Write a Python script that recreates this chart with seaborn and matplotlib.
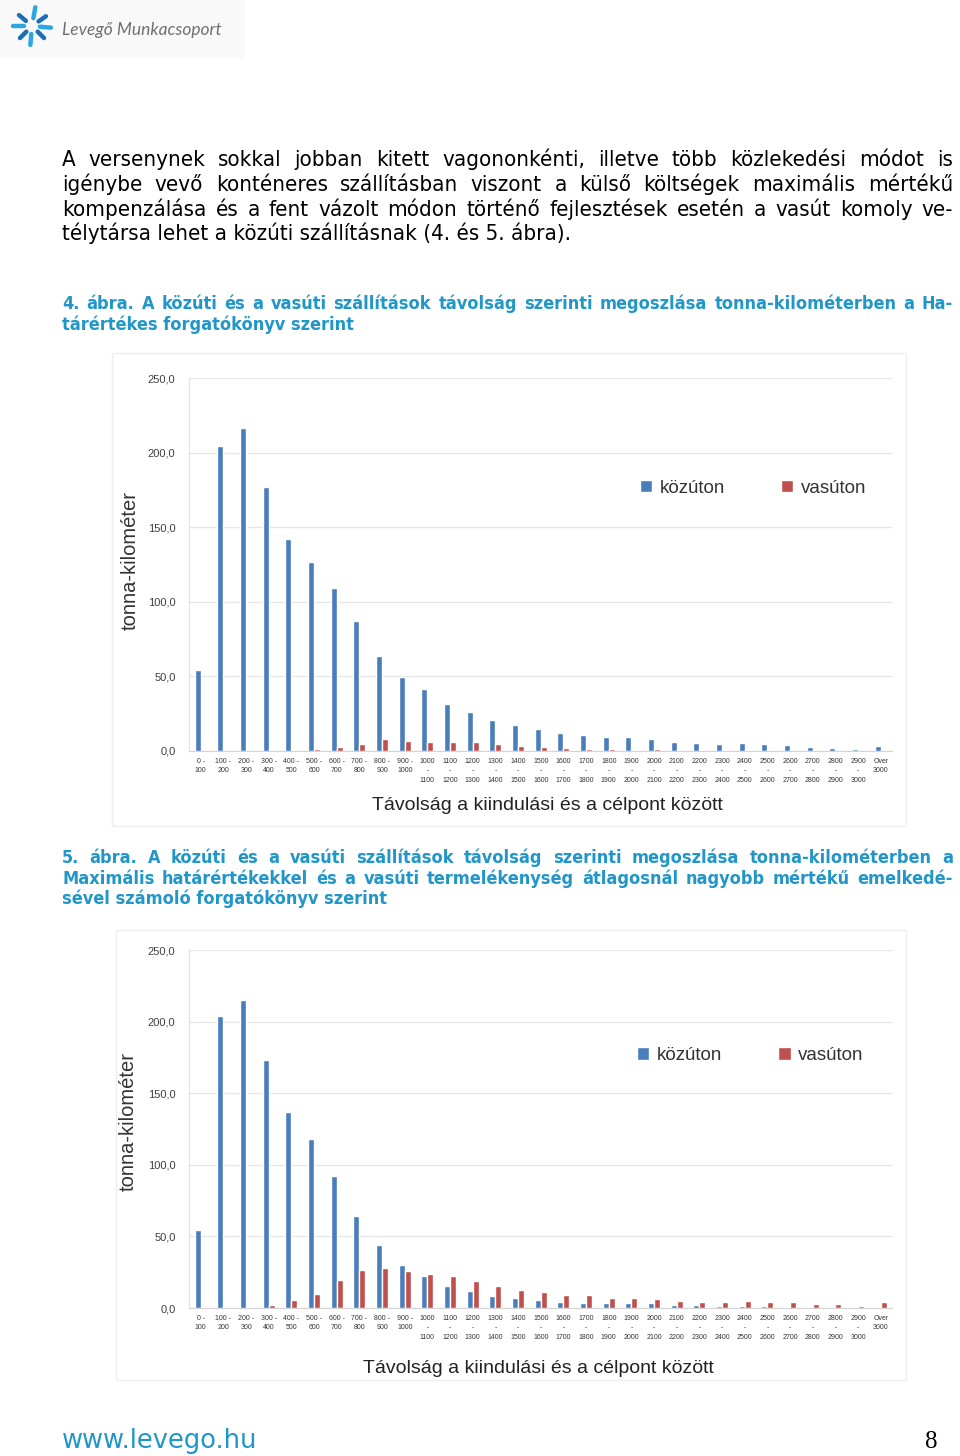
import matplotlib
matplotlib.use("Agg")
import matplotlib.pyplot as plt
import seaborn as sns
import pandas as pd
import numpy as np
from matplotlib.patches import Patch, Rectangle
from matplotlib.lines import Line2D
from matplotlib import font_manager

# ---------------- data ----------------
categories = ["0 -\n100", "100 -\n200", "200 -\n300", "300 -\n400", "400 -\n500",
              "500 -\n600", "600 -\n700", "700 -\n800", "800 -\n900", "900 -\n1000",
              "1000\n-\n1100", "1100\n-\n1200", "1200\n-\n1300", "1300\n-\n1400",
              "1400\n-\n1500", "1500\n-\n1600", "1600\n-\n1700", "1700\n-\n1800",
              "1800\n-\n1900", "1900\n-\n2000", "2000\n-\n2100", "2100\n-\n2200",
              "2200\n-\n2300", "2300\n-\n2400", "2400\n-\n2500", "2500\n-\n2600",
              "2600\n-\n2700", "2700\n-\n2800", "2800\n-\n2900", "2900\n-\n3000",
              "Over\n3000"]
series_names = ["közúton", "vasúton"]

road_fig4 = [54.2, 204.1, 216.2, 176.7, 142.4, 126.7, 109.0, 87.0, 63.6, 49.8,
             41.6, 31.3, 26.0, 21.0, 17.2, 14.5, 12.0, 11.0, 9.3, 9.2,
             8.0, 6.3, 5.2, 5.0, 5.2, 4.5, 4.3, 2.7, 2.3, 1.6, 3.2]
rail_fig4 = [0.0, 0.0, 0.0, 0.2, 0.7, 1.5, 2.7, 4.9, 7.8, 6.9,
             5.9, 5.9, 6.1, 5.0, 3.4, 2.5, 1.8, 1.4, 1.1, 0.9,
             1.1, 0.7, 0.5, 0.5, 0.5, 0.4, 0.4, 0.3, 0.3, 0.3, 0.4]
road_fig5 = [54.3, 204.2, 215.3, 173.3, 136.7, 118.1, 91.9, 64.5, 43.9, 30.2,
             22.6, 15.7, 11.8, 8.5, 7.1, 5.5, 4.4, 3.7, 3.2, 3.2,
             3.5, 2.3, 1.8, 1.6, 1.6, 1.2, 0.7, 0.7, 0.5, 0.7, 0.7]
rail_fig5 = [0.0, 0.0, 0.7, 2.1, 5.3, 9.7, 19.5, 26.7, 27.8, 25.9,
             24.0, 22.1, 18.9, 15.2, 12.4, 11.1, 9.4, 8.8, 6.7, 7.1,
             6.2, 4.8, 4.4, 4.1, 4.8, 4.1, 3.9, 2.8, 2.5, 1.6, 4.4]

ytick_values = [0, 50, 100, 150, 200, 250]
ytick_labels = ["0,0", "50,0", "100,0", "150,0", "200,0", "250,0"]

y_title = "tonna-kilométer"
x_title = "Távolság a kiindulási és a célpont között"

paragraph = [
    "A versenynek sokkal jobban kitett vagononkénti, illetve több közlekedési módot is",
    "igénybe vevő konténeres szállításban viszont a külső költségek maximális mértékű",
    "kompenzálása és a fent vázolt módon történő fejlesztések esetén a vasút komoly ve-",
    "télytársa lehet a közúti szállításnak (4. és 5. ábra).",
]
caption4 = [
    "4. ábra. A közúti és a vasúti szállítások távolság szerinti megoszlása tonna-kilométerben a Ha-",
    "tárértékes forgatókönyv szerint",
]
caption5 = [
    "5. ábra. A közúti és a vasúti szállítások távolság szerinti megoszlása tonna-kilométerben a",
    "Maximális határértékekkel és a vasúti termelékenység átlagosnál nagyobb mértékű emelkedé-",
    "sével számoló forgatókönyv szerint",
]

BLUE = "#4a7ebb"
RED = "#c0504d"
TEAL = "#2196c8"

# ---------------- setup ----------------
sns.set_style("white")
plt.rcParams["font.family"] = ["Liberation Sans", "DejaVu Sans"]

# condensed DejaVu, if installed, is closer to the squeezed body text
_cond = font_manager.findfont(font_manager.FontProperties(family="DejaVu Sans",
                                                          stretch="condensed"))
HAS_COND = "Condensed" in _cond
BODY = dict(family=["DejaVu Sans"], fontstretch="condensed") if HAS_COND else dict(family=["DejaVu Sans"])

W, H = 960, 1456
fig = plt.figure(figsize=(W / 100, H / 100), dpi=100)
page = fig.add_axes([0, 0, 1, 1], zorder=0)
page.set_xlim(0, W)
page.set_ylim(H, 0)
page.axis("off")
renderer = fig.canvas.get_renderer()


def text_width(s, **kw):
    t = page.text(0, 0, s, **kw)
    w = t.get_window_extent(renderer).width
    t.remove()
    return w


def justified_block(lines, x0, x1, baselines, size, justify, **kw):
    while True:
        ok = True
        for line, j in zip(lines, justify):
            if not j:
                continue
            words = line.split(" ")
            tot = sum(text_width(w, fontsize=size, **kw) for w in words)
            gap = (x1 - x0 - tot) / (len(words) - 1)
            if gap < 0.26 * size * 100 / 72:
                ok = False
                break
        if ok:
            break
        size -= 0.25
    for line, yb, j in zip(lines, baselines, justify):
        if not j:
            page.text(x0, yb, line, fontsize=size, ha="left", va="baseline", **kw)
            continue
        words = line.split(" ")
        widths = [text_width(w, fontsize=size, **kw) for w in words]
        gap = (x1 - x0 - sum(widths)) / (len(words) - 1)
        x = x0
        for w, wd in zip(words, widths):
            page.text(x, yb, w, fontsize=size, ha="left", va="baseline", **kw)
            x += wd + gap


# ---------------- logo ----------------
page.add_patch(Rectangle((0, 0), 245, 58, facecolor="#f9f9f9", edgecolor="none", zorder=0))
cx, cy = 32, 26
for k, ang in enumerate(np.deg2rad([-80, -35, 5, 45, 95, 135, 180, 220])):
    r0, r1 = 8, 19 if k % 2 == 0 else 17
    page.add_line(Line2D([cx + r0 * np.cos(ang), cx + r1 * np.cos(ang)],
                         [cy + r0 * np.sin(ang), cy + r1 * np.sin(ang)],
                         color="#2aa7de" if k % 2 == 0 else "#1d6fb4",
                         lw=3.2, solid_capstyle="round"))
page.text(62, 30, "Levegő Munkacsoport", fontsize=12.5, family=["Lato", "DejaVu Sans"],
          style="italic", color="#707070", ha="left", va="center")

# ---------------- body text ----------------
justified_block(paragraph, 62, 953, [166, 191, 216, 240], 16 if HAS_COND else 14.5,
                [True, True, True, False], color="black", **BODY)
justified_block(caption4, 62, 953, [309, 330], 13 if HAS_COND else 12.2,
                [True, False], weight="bold", color=TEAL, **BODY)
justified_block(caption5, 62, 953, [863, 884, 904], 13 if HAS_COND else 12.2,
                [True, True, False], weight="bold", color=TEAL, **BODY)

page.text(62, 1448, "www.levego.hu", fontsize=18.5, family=["DejaVu Sans"],
          color=TEAL, ha="left", va="baseline")
page.text(937, 1448, "8", fontsize=18, family=["Liberation Serif"], color="black",
          ha="right", va="baseline")

# faint chart frames
page.add_patch(Rectangle((112, 353), 794, 473, facecolor="none", edgecolor="#efefef", lw=1))
page.add_patch(Rectangle((116, 930), 790, 450, facecolor="none", edgecolor="#efefef", lw=1))


# ---------------- charts ----------------
def draw_chart(rect, road, rail, legend_x, xlabel_xy, ylabel_xy):
    ax = fig.add_axes(rect, zorder=2)
    ax.set_facecolor("none")
    n = len(categories)
    df = pd.DataFrame({
        "Távolság": categories * 2,
        "tkm": road + rail,
        "mód": [series_names[0]] * n + [series_names[1]] * n,
    })
    sns.barplot(data=df, x="Távolság", y="tkm", hue="mód", order=categories,
                hue_order=series_names, palette=[BLUE, RED], width=0.53,
                saturation=1, errorbar=None, legend=False, ax=ax, zorder=3)
    ax.set_xlim(-0.5, n - 0.5)
    ax.set_ylim(0, 250)
    ax.set_yticks(ytick_values)
    ax.set_yticklabels(ytick_labels)
    ax.set_xlabel("")
    ax.set_ylabel("")
    ax.grid(axis="y", color="#e6e6e6", lw=0.9)
    ax.set_axisbelow(True)
    for s in ["top", "right"]:
        ax.spines[s].set_visible(False)
    ax.spines["left"].set_color("#e2e2e2")
    ax.spines["bottom"].set_color("#d4d4d4")
    ax.tick_params(axis="y", length=0, pad=10, labelsize=8, labelcolor="#404040")
    ax.tick_params(axis="x", length=0, pad=5, labelsize=5, labelcolor="#333333")
    for lab in ax.get_xticklabels():
        lab.set_linespacing(1.5)
    handles = [Patch(facecolor=BLUE, label=series_names[0]),
               Patch(facecolor=RED, label=series_names[1])]
    ax.legend(handles=handles, loc="center left", bbox_to_anchor=(legend_x, 0.705),
              ncol=2, frameon=False, fontsize=13.5, handlelength=0.65,
              handleheight=0.65, handletextpad=0.4, columnspacing=3.0,
              borderaxespad=0, borderpad=0, labelcolor="#333333")
    ax.text(xlabel_xy[0], xlabel_xy[1], x_title, transform=ax.transAxes,
            ha="center", va="center", fontsize=14, color="#222222")
    ax.text(ylabel_xy[0], ylabel_xy[1], y_title, transform=ax.transAxes,
            ha="center", va="center", rotation=90, fontsize=14.5, color="#333333")
    return ax


def rect_px(left, right, top, bottom):
    return [left / W, (H - bottom) / H, (right - left) / W, (bottom - top) / H]


draw_chart(rect_px(189.4, 892.1, 378, 751), road_fig4, rail_fig4,
           0.641, (0.51, -0.147), (-0.0845, 0.512))
draw_chart(rect_px(189.4, 892.1, 950, 1308), road_fig5, rail_fig5,
           0.637, (0.496, -0.168), (-0.087, 0.52))

fig.savefig("out.png", dpi=100)
